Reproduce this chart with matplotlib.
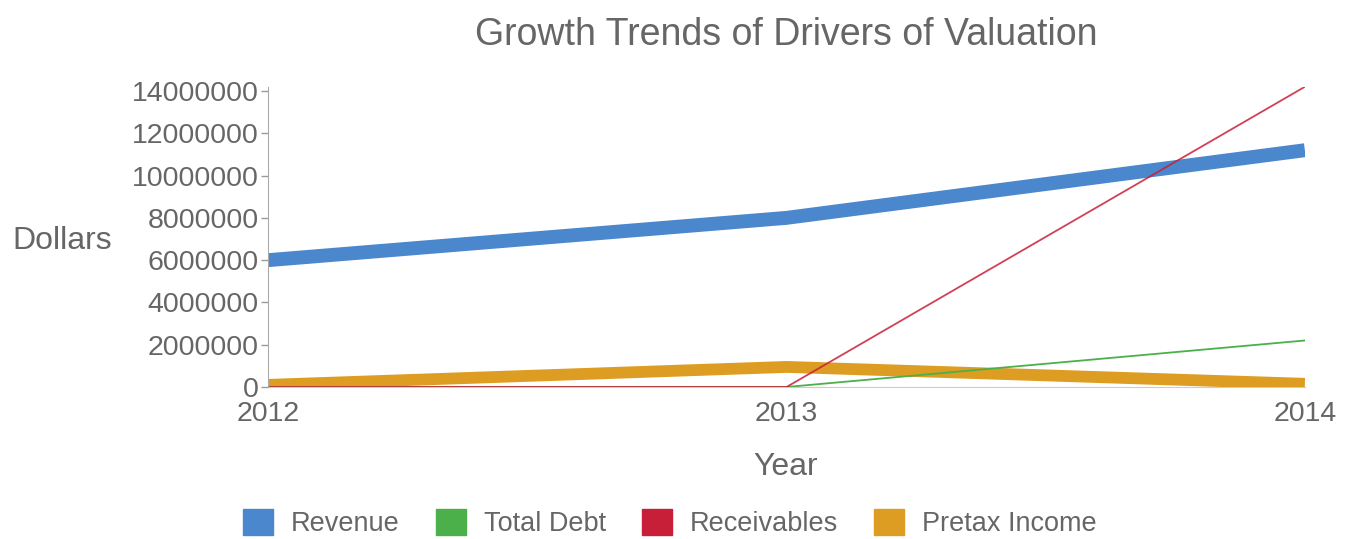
import matplotlib.pyplot as plt
from matplotlib.patches import Patch

years = [2012, 2013, 2014]
revenue = [6000000, 8000000, 11200000]
total_debt = [0, 0, 2200000]
receivables = [0, 0, 14200000]
pretax_income = [100000, 950000, 150000]

series_names = ['Revenue', 'Total Debt', 'Receivables', 'Pretax Income']
series_colors = ['#4a87cc', '#4bb04a', '#c81f38', '#dd9d22']
y_ticks = [0, 2000000, 4000000, 6000000, 8000000, 10000000, 12000000, 14000000]

plt.rcParams['font.family'] = ['Liberation Sans', 'DejaVu Sans']
txt = '#666666'

fig = plt.figure(figsize=(13.48, 5.39), dpi=100)
ax = fig.add_axes([0.199, 0.282, 0.769, 0.557])

ax.plot(years, revenue, color=series_colors[0], linewidth=10, solid_capstyle='butt', zorder=2)
ax.plot(years, pretax_income, color=series_colors[3], linewidth=8.5, solid_capstyle='butt', zorder=3)
ax.plot(years, total_debt, color=series_colors[1], linewidth=1.3, zorder=4)
ax.plot(years, receivables, color=series_colors[2], linewidth=1.3, alpha=0.85, zorder=5)

ax.set_xlim(2012, 2014)
ax.set_ylim(0, 14200000)
ax.set_xticks(years)
ax.set_xticklabels([str(y) for y in years])
ax.set_yticks(y_ticks)
ax.set_yticklabels([str(v) for v in y_ticks])
ax.tick_params(axis='y', colors='#999999', labelcolor=txt, labelsize=20.5, length=5, width=1, pad=2)
ax.tick_params(axis='x', length=0, labelcolor=txt, labelsize=20.5, pad=10)

for s in ['top', 'right']:
    ax.spines[s].set_visible(False)
ax.spines['left'].set_color('#aaaaaa')
ax.spines['bottom'].set_color('#cccccc')
ax.spines['left'].set_zorder(6)

fig.text(0.583, 0.935, 'Growth Trends of Drivers of Valuation', ha='center', va='center',
         fontsize=27, color=txt)
fig.text(0.046, 0.553, 'Dollars', ha='center', va='center', fontsize=23, color=txt)
fig.text(0.583, 0.133, 'Year', ha='center', va='center', fontsize=23, color=txt)

handles = [Patch(facecolor=c, edgecolor=c) for c in series_colors]
fig.legend(handles, series_names, loc='center', bbox_to_anchor=(0.497, 0.03), ncol=4,
           frameon=False, fontsize=19.5, labelcolor=txt, handlelength=1.1, handleheight=1.1,
           handletextpad=0.65, columnspacing=1.35)

fig.savefig('out.png', dpi=100, facecolor='white')
